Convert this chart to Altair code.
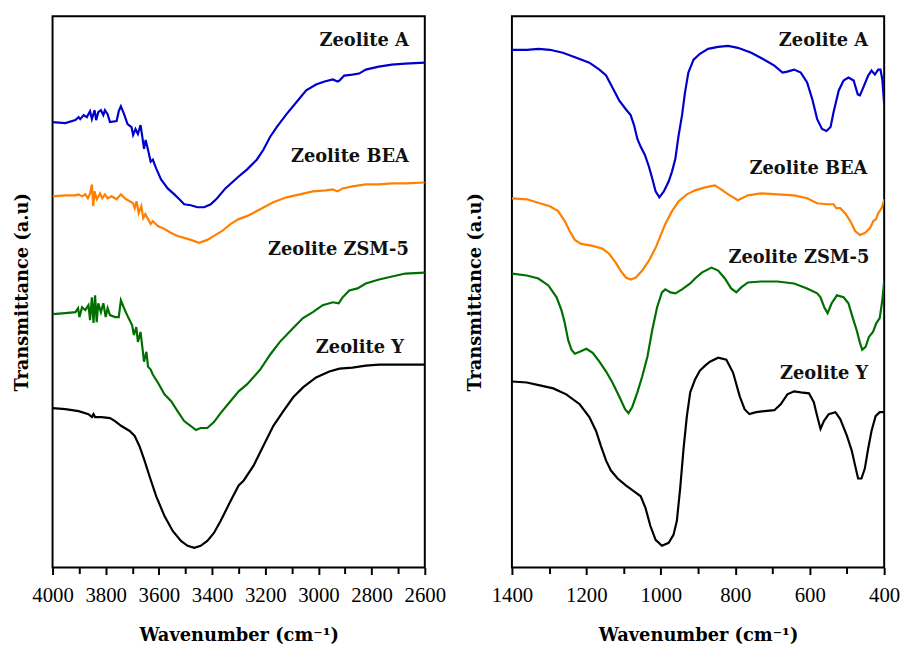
import altair as alt
import pandas as pd

SERIES = ["Zeolite A", "Zeolite BEA", "Zeolite ZSM-5", "Zeolite Y"]
COLORS = ["#0000cd", "#ff8000", "#006f00", "#000000"]

# ---- Left panel (4000-2600 cm-1): (wavenumber, transmittance a.u.) ----
LEFT_A = [(4000,452),(3952,451),(3914,454),(3902,457),(3896,455),(3883,459),(3871,457),(3859,463),
          (3852,455),(3842,464),(3836,454),(3828,462),(3818,464),(3809,459),(3803,464),(3793,460),
          (3784,452),(3759,453),(3751,463),(3743,468),(3731,460),(3718,450),(3703,447),(3697,439),
          (3688,445),(3679,440),(3669,449),(3664,440),(3656,425),(3650,434),(3641,424),(3631,412),
          (3623,414),(3610,405),(3592,394),(3567,385),(3542,379),(3523,374),(3505,369),(3480,368),
          (3455,366),(3430,366),(3405,369),(3381,375),(3350,385),(3300,397),(3269,404),(3232,414),
          (3207,424),(3182,437),(3157,447),(3120,460),(3083,472),(3046,484),(3009,490),(2977,493),
          (2946,495),(2928,493),(2921,494),(2903,499),(2872,500),(2847,501),(2822,505),(2773,508),
          (2724,510),(2674,511),(2600,512)]
LEFT_BEA = [(4000,377),(3952,378),(3914,378),(3902,379),(3889,377),(3877,379),(3867,375),(3859,380),
            (3852,389),(3847,367),(3842,382),(3834,374),(3821,380),(3813,375),(3803,379),(3793,375),
            (3778,377),(3759,374),(3743,379),(3728,375),(3710,372),(3697,370),(3691,365),(3684,372),
            (3676,360),(3666,367),(3659,355),(3651,359),(3641,354),(3631,349),(3623,352),(3604,347),
            (3579,344),(3554,340),(3530,337),(3505,335),(3480,333),(3449,330),(3418,333),(3393,337),
            (3362,342),(3331,349),(3300,354),(3269,357),(3219,364),(3170,371),(3120,376),(3070,379),
            (3021,382),(2971,383),(2946,384),(2928,382),(2909,385),(2872,387),(2822,389),(2772,389),
            (2723,390),(2673,390),(2600,391)]
LEFT_ZSM5 = [(4000,258),(3952,259),(3914,260),(3904,264),(3899,255),(3889,265),(3877,262),(3865,267),
             (3859,252),(3852,275),(3846,249),(3840,277),(3834,250),(3828,269),(3818,260),(3809,269),
             (3800,255),(3793,264),(3784,257),(3765,255),(3751,255),(3743,272),(3731,264),(3716,255),
             (3701,247),(3694,237),(3685,245),(3679,230),(3669,240),(3662,224),(3656,210),(3647,220),
             (3641,205),(3631,202),(3623,197),(3604,189),(3579,177),(3554,170),(3530,160),(3505,150),
             (3480,145),(3461,141),(3443,143),(3418,143),(3393,149),(3368,158),(3331,170),(3300,180),
             (3269,187),(3219,202),(3182,217),(3145,230),(3095,244),(3058,254),(3021,260),(2984,267),
             (2946,270),(2924,269),(2909,275),(2884,282),(2853,284),(2822,289),(2772,293),(2723,296),
             (2673,299),(2600,300)]
LEFT_Y = [(4000,163),(3952,162),(3902,160),(3865,157),(3852,154),(3846,157),(3840,154),(3815,154),
          (3784,153),(3765,150),(3741,145),(3710,140),(3691,135),(3672,124),(3654,110),(3635,94),
          (3610,74),(3579,54),(3548,39),(3517,29),(3492,24),(3467,22),(3443,24),(3418,29),(3393,37),
          (3368,49),(3331,69),(3300,85),(3281,90),(3244,105),(3207,125),(3170,145),(3132,160),
          (3095,174),(3058,184),(3009,194),(2959,200),(2921,203),(2872,204),(2822,206),(2772,207),
          (2698,207),(2600,207)]

# ---- Right panel (1400-400 cm-1) ----
RIGHT_A = [(1400,525),(1360,525),(1329,526),(1298,525),(1263,522),(1227,517),(1192,512),(1165,505),
           (1147,499),(1130,487),(1112,474),(1094,465),(1081,459),(1072,449),(1063,435),(1054,427),
           (1043,419),(1032,407),(1023,395),(1014,382),(1004,376),(992,382),(979,392),(970,402),
           (961,415),(952,439),(943,459),(935,482),(926,502),(912,515),(895,521),(873,526),(846,528),
           (819,529),(793,527),(757,522),(722,515),(695,509),(673,502),(660,503),(642,505),(624,502),
           (607,492),(593,475),(580,455),(567,445),(555,443),(544,447),(536,462),(522,484),(509,494),
           (496,497),(482,494),(471,480),(465,479),(456,487),(443,499),(434,504),(425,500),(416,505),
           (410,505),(405,495),(401,475),(400,470)]
RIGHT_BEA = [(1400,375),(1360,374),(1325,370),(1298,367),(1276,362),(1258,352),(1245,342),(1231,333),
             (1214,329),(1183,327),(1156,324),(1139,319),(1121,310),(1108,302),(1094,295),(1081,293),
             (1067,295),(1050,302),(1032,312),(1014,325),(1001,337),(988,349),(970,362),(952,372),
             (930,379),(908,383),(881,386),(855,388),(838,384),(819,379),(793,373),(766,378),(731,380),
             (687,379),(642,378),(607,375),(580,370),(554,369),(536,369),(529,365),(518,365),(505,360),
             (491,352),(478,342),(465,338),(452,340),(438,345),(429,352),(422,354),(416,360),(407,365),
             (401,372),(400,374)]
RIGHT_ZSM5 = [(1400,299),(1360,297),(1329,294),(1302,287),(1280,275),(1267,262),(1258,249),(1249,232),
              (1240,222),(1231,218),(1218,220),(1200,223),(1183,219),(1165,210),(1147,200),(1130,189),
              (1112,175),(1096,162),(1087,158),(1077,164),(1063,179),(1050,195),(1036,215),(1023,242),
              (1010,265),(997,280),(988,283),(974,280),(961,279),(943,283),(921,289),(908,294),(890,300),
              (864,305),(846,302),(828,294),(811,284),(797,280),(784,285),(766,290),(731,291),(687,291),
              (642,289),(607,284),(580,279),(571,275),(561,265),(552,259),(541,269),(527,277),(509,275),
              (496,269),(485,255),(474,242),(465,229),(459,222),(450,225),(441,235),(430,240),(421,249),
              (412,254),(405,272),(401,287),(400,292)]
RIGHT_Y = [(1400,190),(1360,189),(1325,186),(1289,183),(1254,177),(1218,167),(1192,154),(1174,140),
           (1161,125),(1147,110),(1134,100),(1116,92),(1094,85),(1072,79),(1054,74),(1041,62),(1028,44),
           (1014,30),(997,24),(979,27),(966,35),(957,49),(948,82),(939,122),(930,155),(921,179),
           (908,192),(895,201),(881,206),(868,210),(846,214),(824,212),(806,199),(788,175),(775,162),
           (762,157),(744,159),(722,160),(695,161),(678,167),(660,177),(642,180),(624,179),(602,178),
           (589,169),(580,155),(571,142),(562,150),(549,157),(531,159),(518,152),(500,135),(487,120),
           (478,105),(470,92),(461,92),(452,102),(443,122),(434,140),(423,155),(412,159),(401,159),
           (400,159)]

LEFT_LABEL_X = [2660, 2660, 2660, 2678]
LEFT_LABEL_Y = [529, 412, 318, 219]
RIGHT_LABEL_X = [443, 445, 440, 443]
RIGHT_LABEL_Y = [529, 400, 310, 192]

LEFT_MAJOR = [4000, 3800, 3600, 3400, 3200, 3000, 2800, 2600]
LEFT_MINOR = [3900, 3700, 3500, 3300, 3100, 2900, 2700]
RIGHT_MAJOR = [1400, 1200, 1000, 800, 600, 400]
RIGHT_MINOR = [1300, 1100, 900, 700, 500]

X_TITLE = "Wavenumber (cm\u207b\u00b9)"
Y_TITLE = "Transmittance (a.u)"
BOLD_FONT = "DejaVu Serif"
LABEL_FONT = "Liberation Serif"
PLOT_W = 376
PLOT_H = 557


def panel(series_pts, domain, major, minor, lab_x, lab_y, ytitle_pad):
    rows = []
    for name, pts in zip(SERIES, series_pts):
        for w, t in pts:
            rows.append({"series": name, "w": w, "t": t})
    df = pd.DataFrame(rows)
    lab_df = pd.DataFrame({"series": SERIES, "w": lab_x, "t": lab_y})
    minor_df = pd.DataFrame({"w": minor, "t": [0] * len(minor)})

    xs = alt.Scale(domain=domain, nice=False, zero=False)
    ys = alt.Scale(domain=[2, 559], nice=False, zero=False)
    y_axis = alt.Axis(
        title=Y_TITLE, labels=False, ticks=False, domain=False, grid=False,
        titleFont=BOLD_FONT, titleFontSize=18, titleFontWeight="bold", titleColor="black",
        titlePadding=ytitle_pad)

    lines = alt.Chart(df).mark_line(strokeWidth=2.2, clip=True).encode(
        x=alt.X("w:Q", scale=xs, axis=alt.Axis(
            values=major, orient="bottom", title=X_TITLE, format="d",
            tickSize=7, tickWidth=2, tickColor="black", domain=False, grid=False,
            labelOverlap=False, labelFlush=False,
            labelFont=LABEL_FONT, labelFontSize=21, labelColor="black", labelPadding=10,
            titleFont=BOLD_FONT, titleFontSize=18, titleFontWeight="bold", titleColor="black",
            titlePadding=22)),
        y=alt.Y("t:Q", scale=ys, axis=y_axis),
        color=alt.Color("series:N", scale=alt.Scale(domain=SERIES, range=COLORS), legend=None),
    )

    labels = alt.Chart(lab_df).mark_text(
        align="right", baseline="alphabetic", font=BOLD_FONT, fontWeight="bold",
        fontSize=18, color="#111111").encode(
        x=alt.X("w:Q", scale=xs, axis=None),
        y=alt.Y("t:Q", scale=ys, axis=y_axis),
        text="series:N",
    )

    minor_ticks = alt.Chart(minor_df).mark_point(opacity=0).encode(
        x=alt.X("w:Q", scale=xs, axis=alt.Axis(
            values=minor, orient="bottom", labels=False, title=None, tickSize=6,
            tickWidth=2, tickColor="black", domain=False, grid=False)),
        y=alt.Y("t:Q", scale=ys, axis=y_axis),
    )

    return alt.layer(lines, labels, minor_ticks).resolve_axis(x="independent").properties(
        width=PLOT_W, height=PLOT_H)


left = panel([LEFT_A, LEFT_BEA, LEFT_ZSM5, LEFT_Y], [4000, 2600], LEFT_MAJOR, LEFT_MINOR,
             LEFT_LABEL_X, LEFT_LABEL_Y, 21)
right = panel([RIGHT_A, RIGHT_BEA, RIGHT_ZSM5, RIGHT_Y], [1400, 400], RIGHT_MAJOR, RIGHT_MINOR,
              RIGHT_LABEL_X, RIGHT_LABEL_Y, 28)

chart = alt.hconcat(
    left, right, spacing=19,
    padding={"left": 5, "top": 4, "right": 0, "bottom": 0},
).configure(
    background="white",
    view=alt.ViewConfig(stroke="black", strokeWidth=2),
)

chart.save("out.html", embed_options={"renderer": "svg", "actions": False})
